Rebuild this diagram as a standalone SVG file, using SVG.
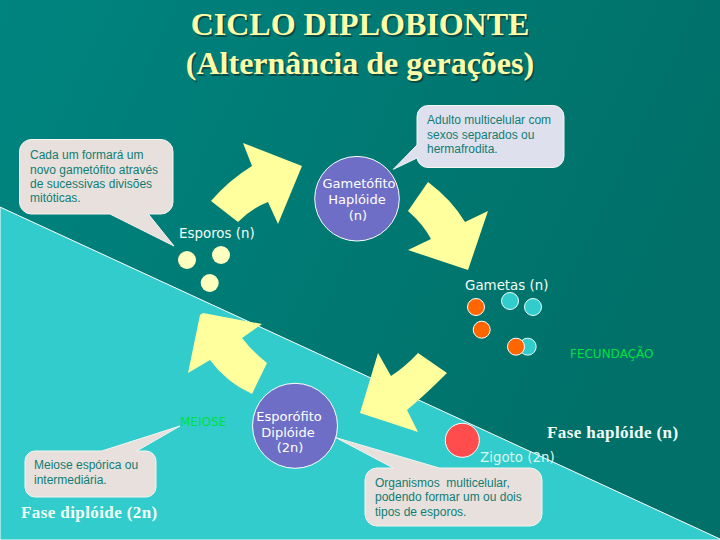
<svg xmlns="http://www.w3.org/2000/svg" width="720" height="540" viewBox="0 0 720 540">
<style>
.title{font-family:"Liberation Serif",serif;font-weight:bold;font-size:32px;text-anchor:middle}
.node{fill:#6e6ec6;stroke:#fff;stroke-width:1}
.nt{font-family:"DejaVu Sans",sans-serif;font-size:13px;fill:#fff;text-anchor:middle}
.lbl{font-family:"DejaVu Sans",sans-serif;font-size:13.4px;fill:#f0fff8}
.co{font-family:"Liberation Sans",sans-serif;font-size:12px;fill:#0f7d74;white-space:pre}
.bub{fill:#e8e0dc;stroke:#f4f4f0;stroke-width:1;stroke-linejoin:round}
.arr{fill:#ffff9d}
.fase{font-family:"Liberation Serif",serif;font-weight:bold;font-size:17px;fill:#f4fff8;letter-spacing:.4px}
.sp{fill:#ffffc0}
.or{fill:#ff6600;stroke:#fff}
.te{fill:#33cccc;stroke:#e8fff8}
.gr{font-family:"DejaVu Sans",sans-serif;font-size:12px;fill:#00e040}
</style>
<defs>
<linearGradient id="bg" x1="0" y1="0" x2="1" y2="0.35">
<stop offset="0" stop-color="#008480"/><stop offset="1" stop-color="#007068"/>
</linearGradient>
</defs>
<rect width="720" height="540" fill="url(#bg)"/>
<polygon points="0,207 720,539 720,540 0,540" fill="#33cccc" stroke="#fff" stroke-width="1"/>
<g id="title">
<text class="title" x="361.500" y="36.500" fill="#0a4a46">CICLO DIPLOBIONTE</text>
<text class="title" x="361.500" y="75.500" fill="#0a4a46">(Alternância de gerações)</text>
<text class="title" x="360" y="35" fill="#ffffa8">CICLO DIPLOBIONTE</text>
<text class="title" x="360" y="74" fill="#ffffa8">(Alternância de gerações)</text>
</g>
<g id="connectors">
<path class="arr" d="M211,201 Q229,180 252,166 L243,143 L302,166 L278,224 L268,202 Q252,208 238,222 Z"/>
<path class="arr" d="M428,182 Q452,200 465,222 L488,211 L468,270 L408,250 L431,239 Q423,224 408,211 Z"/>
<path class="arr" d="M418,353 L447,373 Q425,395 407,410 L418,432 L360,413 L378,353 L391,376 Q405,367 418,353 Z"/>
<path class="arr" d="M262,324 L242,338 Q252,351 267,363 L252,394 Q226,382 210,360 L188,373 L200,315 L203,313 Z"/>
</g>
<g id="callout-esporos">
<path class="bub" d="M31,139.500H161A12,12 0 0 1 173,151.500V202A12,12 0 0 1 161,214H148.300L174,246L110,214H31A12,12 0 0 1 19.500,202V151.500A12,12 0 0 1 31,139.500Z"/>
<text class="co"><tspan x="30" y="159">Cada um formará um</tspan><tspan x="30" y="173.500">novo gametófito através</tspan><tspan x="30" y="188">de sucessivas divisões</tspan><tspan x="30" y="202">mitóticas.</tspan></text>
</g>
<g id="callout-gametofito">
<path class="bub" style="fill:#dfe0ee" d="M428,105.500H553A11,11 0 0 1 564,116.500V156.500A11,11 0 0 1 553,167.500H428A11,11 0 0 1 417,158L393.300,169.300L417,145V116.500A11,11 0 0 1 428,105.500Z"/>
<text class="co"><tspan x="427" y="124">Adulto multicelular com</tspan><tspan x="427" y="139">sexos separados ou</tspan><tspan x="427" y="153">hermafrodita.</tspan></text>
</g>
<g id="callout-meiose">
<path class="bub" d="M35,451H101.700L180,426L136.700,451H146A10,10 0 0 1 156,461V487A10,10 0 0 1 146,497H35A10,10 0 0 1 25,487V461A10,10 0 0 1 35,451Z"/>
<text class="co"><tspan x="34" y="469">Meiose espórica ou</tspan><tspan x="34" y="484">intermediária.</tspan></text>
</g>
<g id="callout-esporofito">
<path class="bub" d="M377,468H393.300L336,437.700L439.300,468H530A12,12 0 0 1 542,480V514A12,12 0 0 1 530,526H377A12,12 0 0 1 365,514V480A12,12 0 0 1 377,468Z"/>
<text class="co"><tspan x="375" y="487">Organismos  multicelular,</tspan><tspan x="375" y="501">podendo formar um ou dois</tspan><tspan x="375" y="516">tipos de esporos.</tspan></text>
</g>
<g id="gametofito">
<circle class="node" cx="357" cy="198.700" r="42.300"/>
<text class="nt"><tspan x="359" y="188">Gametófito</tspan><tspan x="357" y="204">Haplóide</tspan><tspan x="358" y="220">(n)</tspan></text>
</g>
<g id="esporofito">
<circle class="node" cx="295" cy="425.800" r="42.500"/>
<text class="nt"><tspan x="289" y="421">Esporófito</tspan><tspan x="288" y="437">Diplóide</tspan><tspan x="290" y="452">(2n)</tspan></text>
</g>
<g id="esporos">
<text class="lbl" x="179" y="238">Esporos (n)</text>
<circle class="sp" cx="187" cy="260" r="9"/><circle class="sp" cx="221" cy="255" r="9"/><circle class="sp" cx="209.700" cy="283" r="9"/>
</g>
<g id="gametas">
<text class="lbl" x="465" y="290">Gametas (n)</text>
<circle class="or" cx="476" cy="307" r="8.500"/><circle class="te" cx="510" cy="301" r="8.500"/><circle class="te" cx="533" cy="307" r="8.500"/>
<circle class="or" cx="481.700" cy="329.700" r="8.500"/>
<circle class="te" cx="527.700" cy="346.700" r="8.500"/><circle class="or" cx="516" cy="346.700" r="8.500"/>
</g>
<g id="fecundacao"><text class="gr" x="570" y="358">FECUNDAÇÃO</text></g>
<g id="meiose"><text class="gr" x="180" y="426">MEIOSE</text></g>
<g id="zigoto">
<circle cx="462.300" cy="440.300" r="17" fill="#ff4d4d" stroke="#fff"/>
<text class="lbl" style="fill:#d8f8f0" x="480" y="462">Zigoto (2n)</text>
</g>
<text class="fase" x="547" y="438">Fase haplóide (n)</text>
<text class="fase" x="21" y="518">Fase diplóide (2n)</text>
</svg>
